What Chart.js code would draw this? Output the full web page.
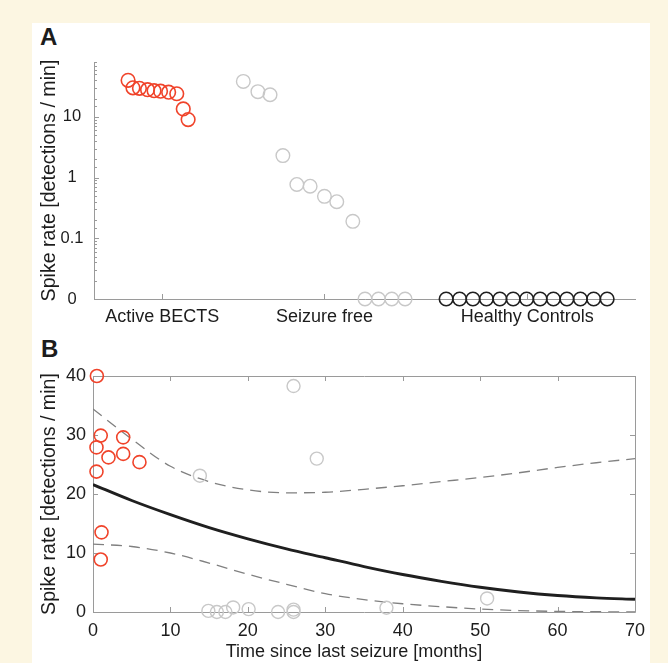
<!DOCTYPE html>
<html lang="en">
<head>
<meta charset="UTF-8">
<title>Spike rate in BECTS</title>
<script src="https://cdn.jsdelivr.net/npm/chart.js"></script>
<style>
    body {
        margin: 0;
        width: 668px;
        height: 663px;
        overflow: hidden;
        position: relative;
        background: #fcf6e2;
        font-family: "Liberation Sans", Arial, Helvetica, sans-serif;
    }
    #panel {
        position: absolute;
        left: 32px;
        top: 23px;
        width: 618px;
        height: 640px;
        background: #ffffff;
    }
    .letter {
        position: absolute;
        font-weight: bold;
        font-size: 24px;
        line-height: 24px;
        color: #1c1c1c;
    }
    #xTitleB {
        position: absolute;
        left: 154px;
        top: 642px;
        width: 400px;
        text-align: center;
        font-size: 18px;
        line-height: 18px;
        color: #1c1c1c;
        white-space: nowrap;
    }
    canvas {
        position: absolute;
        left: 0;
    }
    #chartA { top: 0; }
    #chartB { top: 330px; }
</style>
</head>
<body>
<div id="panel"></div>
<div class="letter" style="left:40px;top:25px">A</div>
<div class="letter" style="left:41px;top:337px">B</div>
<canvas id="chartA" width="668" height="330"></canvas>
<canvas id="chartB" width="668" height="333"></canvas>
<div id="xTitleB">Time since last seizure [months]</div>
<script>
    // ---- Panel A: spike rate per group (log axis, zero drawn at the floor) ----
    const groupLabels = ['Active BECTS', 'Seizure free', 'Healthy Controls'];
    const groupPos = [1, 2, 3.25];

    const activeX = [0.79, 0.82, 0.86, 0.91, 0.95, 0.99, 1.04, 1.09, 1.13, 1.16];
    const activeRate = [40, 30, 29.5, 28, 27, 26.5, 25.5, 24, 13.5, 9];

    const freeX = [1.50, 1.59, 1.665, 1.744, 1.83, 1.912, 2.0, 2.076, 2.175, 2.25, 2.333, 2.415, 2.497];
    const freeRate = [38.3, 26, 23.1, 2.3, 0.77, 0.72, 0.49, 0.40, 0.19, 0, 0, 0, 0];

    const healthyX = [2.75, 2.833, 2.915, 2.998, 3.081, 3.163, 3.246, 3.329, 3.411, 3.494, 3.577, 3.659, 3.742];
    const healthyRate = [0, 0, 0, 0, 0, 0, 0, 0, 0, 0, 0, 0, 0];

    const logTicks = [0.01, 0.1, 1, 10];
    const logTickLabels = ['0', '0.1', '1', '10'];
    const LOG_FLOOR = 0.01;

    // ---- Panel B: spike rate vs time since last seizure ----
    const activeMonths = [0.5, 1.0, 0.45, 2.0, 3.9, 3.9, 6.0, 0.45, 1.1, 1.0];
    const activeSpikes = [40, 29.9, 27.9, 26.2, 29.6, 26.8, 25.4, 23.8, 13.5, 8.9];

    const freeMonths = [13.8, 25.9, 28.9, 14.9, 16.0, 17.1, 18.1, 20.1, 23.9, 25.9, 25.9, 37.9, 50.9];
    const freeSpikes = [23.1, 38.3, 26.0, 0.19, 0, 0, 0.77, 0.49, 0, 0.40, 0, 0.72, 2.3];

    const fitMonths = [0, 5, 10, 15, 20, 25, 30, 35, 40, 45, 50, 55, 60, 65, 70];
    const fitMean = [21.6, 18.9, 16.5, 14.3, 12.4, 10.7, 9.2, 7.7, 6.35, 5.2, 4.2, 3.4, 2.8, 2.4, 2.15];
    const fitUpper = [34.4, 29.3, 24.7, 22.1, 20.7, 20.2, 20.3, 20.8, 21.4, 22.1, 22.8, 23.6, 24.5, 25.3, 26.0];
    const fitLower = [11.5, 11.1, 10.0, 8.3, 6.4, 4.7, 3.1, 2.1, 1.4, 0.9, 0.5, 0.25, 0.1, 0.05, 0];

    const monthTicks = [0, 10, 20, 30, 40, 50, 60, 70];
    const spikeTicks = [0, 10, 20, 30, 40];

    const RED = '#f0432a';
    const GRAY = '#c8c8c8';
    const DARK = '#1f1f1f';
    const AXIS = '#9a9a9a';
    const DASH = '#808080';
    const TEXT = '#1c1c1c';

    Chart.defaults.font.family = '"Liberation Sans", Arial, Helvetica, sans-serif';
    Chart.defaults.font.size = 18;
    Chart.defaults.color = TEXT;

    // MATLAB-like axes: inward tick marks, optional full box
    const matlabAxes = {
        id: 'matlabAxes',
        beforeDatasetsDraw(chart, args, opts) {
            const { ctx, chartArea: a } = chart;
            const x = chart.scales.x, y = chart.scales.y;
            ctx.save();
            ctx.strokeStyle = AXIS;
            ctx.lineWidth = 1;
            ctx.beginPath();
            if (opts.box) {
                ctx.rect(a.left + 0.5, a.top + 0.5, a.right - a.left, a.bottom - a.top);
            } else {
                ctx.moveTo(a.left + 0.5, a.top);
                ctx.lineTo(a.left + 0.5, a.bottom + 0.5);
                ctx.lineTo(a.right, a.bottom + 0.5);
            }
            x.ticks.forEach(t => {
                const px = Math.round(x.getPixelForValue(t.value)) + 0.5;
                ctx.moveTo(px, a.bottom);
                ctx.lineTo(px, a.bottom - opts.len);
                if (opts.box) {
                    ctx.moveTo(px, a.top);
                    ctx.lineTo(px, a.top + opts.len);
                }
            });
            y.ticks.forEach(t => {
                const py = Math.round(y.getPixelForValue(t.value)) + 0.5;
                let len = opts.len;
                if (opts.log) {
                    const e = Math.log10(t.value);
                    if (Math.abs(e - Math.round(e)) > 1e-6) len = opts.minorLen;
                }
                ctx.moveTo(a.left, py);
                ctx.lineTo(a.left + len, py);
                if (opts.box) {
                    ctx.moveTo(a.right, py);
                    ctx.lineTo(a.right - len, py);
                }
            });
            ctx.stroke();
            ctx.restore();
        }
    };

    function toPoints(xs, ys, floor) {
        return xs.map((v, i) => ({ x: v, y: floor ? Math.max(ys[i], floor) : ys[i] }));
    }

    function circles(label, data, color, radius, width) {
        return {
            label: label,
            data: data,
            pointStyle: 'circle',
            pointRadius: radius,
            pointBorderColor: color,
            pointBackgroundColor: 'rgba(0,0,0,0)',
            pointBorderWidth: width,
            showLine: false,
            clip: false
        };
    }

    function curve(label, ys, color, width, dash) {
        return {
            label: label,
            data: toPoints(fitMonths, ys),
            showLine: true,
            borderColor: color,
            borderWidth: width,
            borderDash: dash,
            pointRadius: 0,
            cubicInterpolationMode: 'monotone',
            fill: false
        };
    }

    function logLabel(v) {
        const i = logTicks.findIndex(t => Math.abs(Math.log10(t) - Math.log10(v)) < 1e-6);
        return i >= 0 ? logTickLabels[i] : '';
    }

    new Chart(document.getElementById('chartA'), {
        type: 'scatter',
        data: {
            datasets: [
                circles('Active BECTS', toPoints(activeX, activeRate, LOG_FLOOR), RED, 6.8, 1.6),
                circles('Seizure free', toPoints(freeX, freeRate, LOG_FLOOR), GRAY, 6.8, 1.4),
                circles('Healthy Controls', toPoints(healthyX, healthyRate, LOG_FLOOR), DARK, 6.8, 1.6)
            ]
        },
        options: {
            responsive: false,
            animation: false,
            devicePixelRatio: 1,
            layout: { padding: { left: 32, right: 32, top: 62, bottom: 0 } },
            plugins: {
                legend: { display: false },
                tooltip: { enabled: false },
                matlabAxes: { box: false, len: 5, minorLen: 3, log: true }
            },
            scales: {
                x: {
                    type: 'linear',
                    min: 0.58,
                    max: 3.92,
                    grid: { display: false, drawTicks: false },
                    border: { display: false },
                    afterBuildTicks: s => { s.ticks = groupPos.map(v => ({ value: v })); },
                    afterFit: s => { s.height = 31; },
                    ticks: {
                        autoSkip: false,
                        maxRotation: 0,
                        padding: 7,
                        callback: (v, i) => groupLabels[i]
                    }
                },
                y: {
                    type: 'logarithmic',
                    min: LOG_FLOOR,
                    max: 80,
                    grid: { display: false, drawTicks: false },
                    border: { display: false },
                    afterFit: s => { s.width = 62; },
                    title: {
                        display: true,
                        text: 'Spike rate [detections / min]',
                        font: { size: 19.6 },
                        padding: { top: 6, bottom: 0 }
                    },
                    ticks: {
                        autoSkip: false,
                        crossAlign: 'center',
                        padding: 10.5,
                        font: { size: 16.5 },
                        callback: v => logLabel(v)
                    }
                }
            }
        },
        plugins: [matlabAxes]
    });

    new Chart(document.getElementById('chartB'), {
        type: 'scatter',
        data: {
            datasets: [
                circles('Active BECTS', toPoints(activeMonths, activeSpikes), RED, 6.5, 1.6),
                circles('Seizure free', toPoints(freeMonths, freeSpikes), GRAY, 6.5, 1.4),
                curve('Fit', fitMean, DARK, 2.9, []),
                curve('Upper bound', fitUpper, DASH, 1.3, [11, 7]),
                curve('Lower bound', fitLower, DASH, 1.3, [11, 7])
            ]
        },
        options: {
            responsive: false,
            animation: false,
            devicePixelRatio: 1,
            layout: { padding: { left: 32, right: 33, top: 46, bottom: 0 } },
            plugins: {
                legend: { display: false },
                tooltip: { enabled: false },
                matlabAxes: { box: true, len: 5, minorLen: 5, log: false }
            },
            scales: {
                x: {
                    type: 'linear',
                    min: 0,
                    max: 70,
                    grid: { display: false, drawTicks: false },
                    border: { display: false },
                    afterBuildTicks: s => { s.ticks = monthTicks.map(v => ({ value: v })); },
                    afterFit: s => { s.height = 51; },
                    ticks: { autoSkip: false, maxRotation: 0, padding: 8 }
                },
                y: {
                    type: 'linear',
                    min: 0,
                    max: 40,
                    grid: { display: false, drawTicks: false },
                    border: { display: false },
                    afterBuildTicks: s => { s.ticks = spikeTicks.map(v => ({ value: v })); },
                    afterFit: s => { s.width = 61; },
                    title: {
                        display: true,
                        text: 'Spike rate [detections / min]',
                        font: { size: 19.6 },
                        padding: { top: 6, bottom: 0 }
                    },
                    ticks: { autoSkip: false, padding: 7 }
                }
            }
        },
        plugins: [matlabAxes]
    });
</script>
</body>
</html>
